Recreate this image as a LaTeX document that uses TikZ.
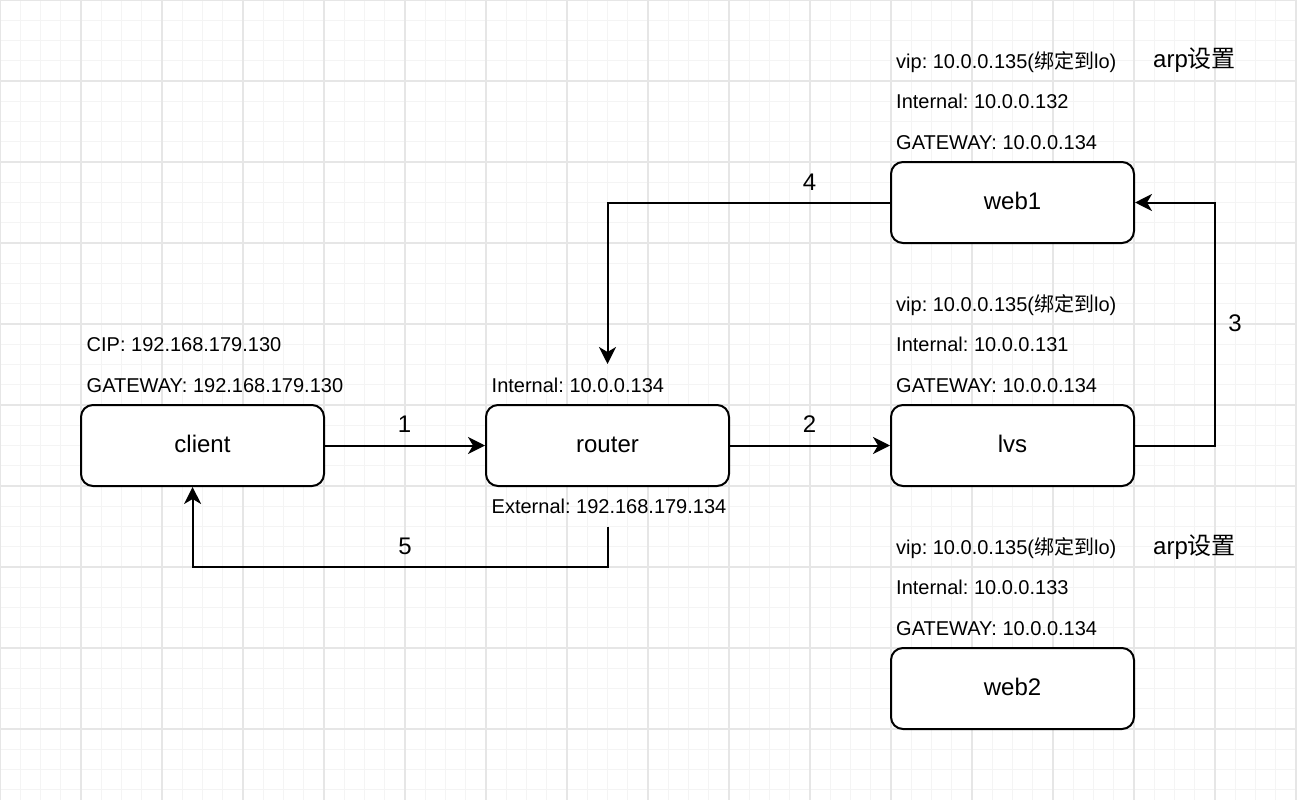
\documentclass[tikz,border=0pt]{standalone}
\usepackage{fontspec}
\setmainfont{Liberation Sans}
\newfontfamily\cjk{Noto Sans CJK SC}
\usetikzlibrary{arrows.meta}
\frenchspacing
\definecolor{minorgrid}{HTML}{F4F4F4}
\definecolor{majorgrid}{HTML}{E6E6E6}
\tikzset{
  box/.style={draw, line width=2pt, rounded corners=12pt, fill=white,
    minimum width=243pt, minimum height=81pt, inner sep=0pt,
    font=\fontsize{24}{28}\selectfont, text height=13pt, text depth=0pt},
  lbl/.style={anchor=base west, inner sep=0pt, font=\fontsize{20}{24}\selectfont},
  arplbl/.style={anchor=base west, inner sep=0pt, font=\fontsize{24}{28}\selectfont},
  num/.style={inner sep=0pt, font=\fontsize{24}{28}\selectfont},
  arr/.style={line width=2pt, -{Stealth[length=17pt,width=17pt,inset=5pt]}},
  gmin/.style={draw=minorgrid, line width=1pt},
  gmaj/.style={draw=majorgrid, line width=1.4pt}
}
\begin{document}
\begin{tikzpicture}[x=1pt,y=-1pt]
\useasboundingbox (0,0) rectangle (1297,800);
\fill[white] (0,0) rectangle (1297,800);
% grid
\foreach \i in {0,...,64} \draw[gmin] (\i*20.25,0) -- (\i*20.25,800);
\foreach \j in {0,...,39} \draw[gmin] (0,\j*20.25) -- (1297,\j*20.25);
\foreach \i in {0,4,...,64} \draw[gmaj] (\i*20.25,0) -- (\i*20.25,800);
\foreach \j in {0,4,...,36} \draw[gmaj] (0,\j*20.25) -- (1297,\j*20.25);

% boxes
\node[box] (client) at (202.5,445.5) {client};
\node[box] (router) at (607.5,445.5) {router};
\node[box] (lvs) at (1012.5,445.5) {lvs};
\node[box] (web1) at (1012.5,202.5) {web1};
\node[box] (web2) at (1012.5,688.5) {web2};

% web1 labels
\node[lbl] (w1vip) at (896,68) {vip: 10.0.0.135({\cjk 绑定到}lo)};
\node[lbl] (w1int) at (896,108.5) {Internal: 10.0.0.132};
\node[lbl] (w1gw) at (896,149) {GATEWAY: 10.0.0.134};
\node[arplbl] (w1arp) at (1153,67.5) {arp{\cjk 设置}};

% lvs labels
\node[lbl] (lvip) at (896,311) {vip: 10.0.0.135({\cjk 绑定到}lo)};
\node[lbl] (lint) at (896,351.5) {Internal: 10.0.0.131};
\node[lbl] (lgw) at (896,392) {GATEWAY: 10.0.0.134};

% web2 labels
\node[lbl] (w2vip) at (896,554) {vip: 10.0.0.135({\cjk 绑定到}lo)};
\node[lbl] (w2int) at (896,594.5) {Internal: 10.0.0.133};
\node[lbl] (w2gw) at (896,635) {GATEWAY: 10.0.0.134};
\node[arplbl] (w2arp) at (1153,554) {arp{\cjk 设置}};

% client labels
\node[lbl] (cip) at (86.5,351) {CIP: 192.168.179.130};
\node[lbl] (cgw) at (86.5,392) {GATEWAY: 192.168.179.130};

% router labels
\node[lbl] (rint) at (491.5,392) {Internal: 10.0.0.134};
\node[lbl] (rext) at (491.5,513) {External: 192.168.179.134};

% coordinates
\coordinate (c3) at (1215,202.5);
\coordinate (c4) at (607.5,364);
\coordinate (s5) at (607.5,526.5);
\coordinate (c5) at (192.6,567);

% connectors
\draw[arr] (client.east) -- (router.west);
\draw[arr] (router.east) -- (lvs.west);
\draw[arr] (lvs.east) -| (c3) -- (web1.east);
\draw[arr] (web1.west) -| (c4);
\draw[arr] (s5) |- (c5) -- (c5 |- client.south);

% numbers
\node[num] (n1) at (404.5,424) {1};
\node[num] (n2) at (809.5,424) {2};
\node[num] (n3) at (1235,323) {3};
\node[num] (n4) at (809.5,182.5) {4};
\node[num] (n5) at (405,546) {5};
\end{tikzpicture}
\end{document}
